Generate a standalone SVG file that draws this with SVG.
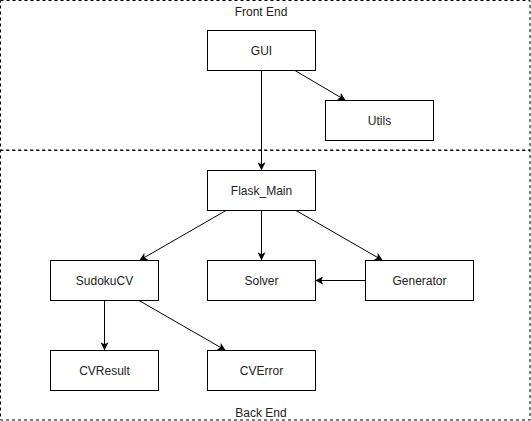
<svg xmlns="http://www.w3.org/2000/svg" width="531" height="421" viewBox="0 0 531 421">
<style>
.box{fill:#fff;stroke:#000;stroke-width:1}
.cont{fill:none;stroke:#000;stroke-width:1;stroke-dasharray:3 3}
text{font-family:"Liberation Sans",Arial,sans-serif;font-size:12px;fill:#222;text-anchor:middle}
.edge{fill:none;stroke:#000;stroke-width:1;marker-end:url(#arr)}
</style>
<defs>
<marker id="arr" viewBox="0 0 10 10" refX="9" refY="5" markerWidth="8" markerHeight="8" markerUnits="userSpaceOnUse" orient="auto">
<path d="M0,0 L10,5 L0,10 L2.5,5 Z" fill="#000"/>
</marker>
</defs>
<rect width="531" height="421" fill="#fff"/>
<g id="frontend"><rect class="cont" x="0.5" y="0.5" width="529.5" height="149.5"/><text x="261" y="16">Front End</text></g>
<g id="backend"><rect class="cont" x="0.5" y="150.5" width="529.5" height="269.5"/><text x="261" y="417">Back End</text></g>
<g id="connectors">
<path class="edge" d="M261.5,70.5 L261.5,169.5"/>
<path class="edge" d="M295,70.5 L345,100"/>
<path class="edge" d="M226,210.5 L140,260"/>
<path class="edge" d="M261.5,210.5 L261.5,259.5"/>
<path class="edge" d="M296,210.5 L382,260"/>
<path class="edge" d="M365,280.5 L316,280.5"/>
<path class="edge" d="M104.5,300.5 L104.5,349.5"/>
<path class="edge" d="M139,300.5 L225,350"/>
</g>
<g id="gui"><rect class="box" x="207.5" y="30.5" width="108" height="40"/><text x="261.5" y="54.5">GUI</text></g>
<g id="utils"><rect class="box" x="325.5" y="100.5" width="108" height="40"/><text x="379.5" y="124.5">Utils</text></g>
<g id="flask_main"><rect class="box" x="207.5" y="170.5" width="108" height="40"/><text x="261.5" y="194.5">Flask_Main</text></g>
<g id="sudokucv"><rect class="box" x="50.5" y="260.5" width="108" height="40"/><text x="104.5" y="284.5">SudokuCV</text></g>
<g id="solver"><rect class="box" x="207.5" y="260.5" width="108" height="40"/><text x="261.5" y="284.5">Solver</text></g>
<g id="generator"><rect class="box" x="365.5" y="260.5" width="108" height="40"/><text x="419.5" y="284.5">Generator</text></g>
<g id="cvresult"><rect class="box" x="50.5" y="350.5" width="108" height="40"/><text x="104.5" y="374.5">CVResult</text></g>
<g id="cverror"><rect class="box" x="207.5" y="350.5" width="108" height="40"/><text x="261.5" y="374.5">CVError</text></g>
</svg>
